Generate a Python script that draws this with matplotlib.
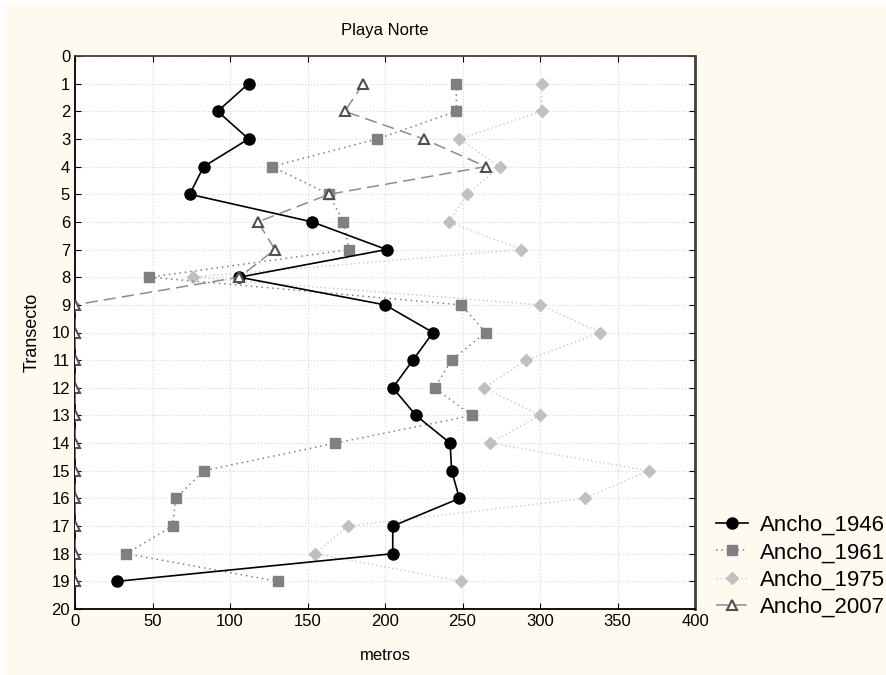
import matplotlib
matplotlib.use("Agg")
import matplotlib.pyplot as plt
from matplotlib.patches import Rectangle

plt.rcParams['font.family'] = ['Liberation Sans', 'DejaVu Sans']

transecto = list(range(1, 20))
ancho_1946 = [112, 92, 112, 83, 74, 153, 201, 106, 200, 231, 218, 205, 220, 242, 243, 248, 205, 205, 27]
ancho_1961 = [246, 246, 195, 127, 164, 173, 177, 48, 249, 265, 243, 232, 256, 168, 83, 65, 63, 33, 131]
ancho_1975 = [301, 301, 248, 274, 253, 241, 288, 76, 300, 339, 291, 264, 300, 268, 370, 329, 176, 155, 249]
ancho_2007 = [186, 174, 225, 265, 164, 118, 129, 106, 0, 0, 0, 0, 0, 0, 0, 0, 0, 0, 0]

title = "Playa Norte"
xlabel = "metros"
ylabel = "Transecto"
labels = ["Ancho_1946", "Ancho_1961", "Ancho_1975", "Ancho_2007"]

fig = plt.figure(figsize=(8.86, 6.75), dpi=100, facecolor='white')
fig.patches.append(Rectangle((5/886, 0), 1, 1 - 5/675, transform=fig.transFigure,
                             facecolor='#FFFAF0', edgecolor='none', zorder=-10))
ax = fig.add_axes([75/886, 1 - 609/675, 620/886, 553/675])
ax.set_facecolor('white')

l1, = ax.plot(ancho_1946, transecto, color='black', lw=1.2, marker='o', ms=8,
              mfc='black', mec='black', zorder=5)
l2, = ax.plot(ancho_1961, transecto, color='#808080', lw=1.1, ls=(0, (1, 2.5)), marker='s', ms=7,
              mfc='#808080', mec='#808080', zorder=4)
l3, = ax.plot(ancho_1975, transecto, color='#C8C8C8', lw=1.0, ls=(0, (1, 2)), marker='D', ms=6.5,
              mfc='#C0C0C0', mec='#C0C0C0', zorder=3)
l4, = ax.plot(ancho_2007, transecto, color='#8C8C8C', lw=1.1, ls=(0, (8, 4)), marker='^', ms=7,
              mfc='white', mec='#505050', mew=1.5, zorder=6)

ax.set_xlim(0, 400)
ax.set_ylim(20, 0)
ax.set_xticks(range(0, 401, 50))
ax.set_yticks(range(0, 21))
ax.tick_params(direction='in', length=4, labelsize=12, colors='black', top=True, right=True,
               labeltop=False, labelright=False)
ax.grid(True, color='#D8D8D8', ls=':', lw=0.8)
ax.set_axisbelow(True)
for s in ['left', 'bottom']:
    ax.spines[s].set_color('black')
    ax.spines[s].set_linewidth(1.3)
ax.spines['top'].set_color('#404040')
ax.spines['top'].set_linewidth(1.3)
ax.spines['right'].set_color('#404040')
ax.spines['right'].set_linewidth(2.0)

ax.set_title(title, fontsize=12, pad=15)
ax.set_xlabel(xlabel, fontsize=12, labelpad=14)
ax.set_ylabel(ylabel, fontsize=13, labelpad=8)

fig.legend([l1, l2, l3, l4], labels, loc='upper left', bbox_to_anchor=(716/886, 1 - 515/675),
           frameon=False, fontsize=16, handlelength=1.45, handletextpad=0.55, labelspacing=0.28,
           borderpad=0, borderaxespad=0)

fig.savefig('out.png', dpi=100, facecolor=fig.get_facecolor())
